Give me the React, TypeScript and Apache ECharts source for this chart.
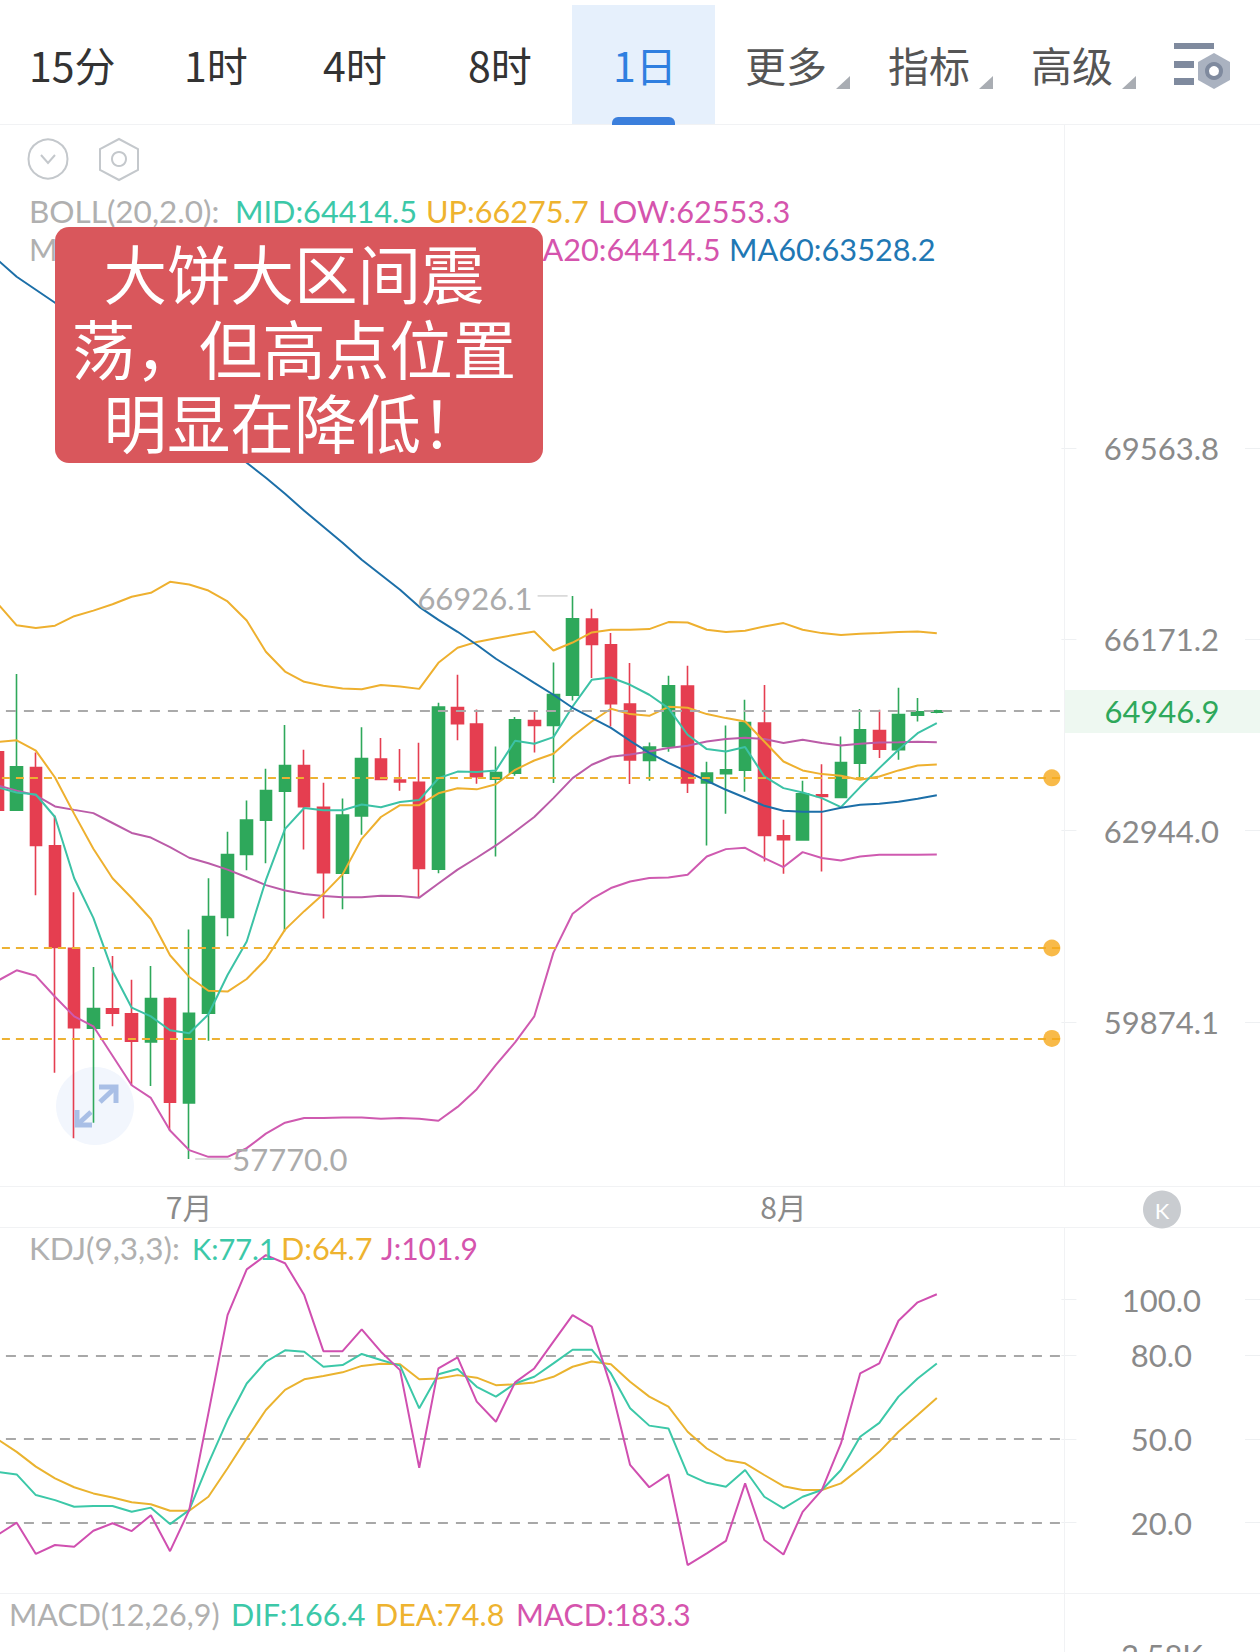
import React, { useEffect, useRef } from "react";
import * as echarts from "echarts";

const categories = [
  "6/21","6/22","6/23","6/24","6/25","6/26","6/27","6/28","6/29","6/30",
  "7/1","7/2","7/3","7/4","7/5","7/6","7/7","7/8","7/9","7/10",
  "7/11","7/12","7/13","7/14","7/15","7/16","7/17","7/18","7/19","7/20",
  "7/21","7/22","7/23","7/24","7/25","7/26","7/27","7/28","7/29","7/30",
  "7/31","8/1","8/2","8/3","8/4","8/5","8/6","8/7","8/8","8/9",
  "8/10","8/11","8/12","8/13","8/14","8/15",
];
const monthLabels: Record<string, string> = { "7/1": "7月", "8/1": "8月" };

// open, close, low, high
const kline = [
  [64255,63280,63180,64400],[63280,64003,63280,65576],[63990,62701,61891,64241],[62694,61053,59085,63200],
  [61040,59783,58081,61941],[59776,60085,58319,60739],[60080,60010,59807,60915],[60004,59575,58892,60538],
  [59562,60241,58880,60758],[60241,58632,58200,60260],[58620,60010,57770,61337],[60010,61546,59580,62166],
  [61533,62552,61229,62927],[62552,63117,62295,63444],[63117,63606,62410,63970],[63595,64024,61305,64708],
  [64024,63338,62636,64288],[63331,62255,61514,63739],[62248,63200,61666,63475],[63187,64142,62876,64668],
  [64135,63791,63791,64487],[63784,63751,63606,64302],[63744,62327,61858,64407],[62314,65010,62248,65083],
  [65003,64728,64448,65563],[64721,63838,63720,64969],[63798,63908,62521,64344],[63898,64794,63853,64840],
  [64782,64697,64243,64935],[64697,65225,63732,65772],[65214,66528,65122,66926.1],[66522,66082,65504,66702],
  [66078,65066,64681,66279],[65061,64120,63715,65762],[64109,64334,63770,64411],[64344,65372,64255,65544],
  [65367,63732,63565,65715],[63732,63898,62701,64087],[63887,63953,63223,64697],[63948,64748,63587,65134],
  [64738,62865,62439,65385],[62860,62794,62239,63123],[62790,63553,62790,63770],[63537,63509,62276,64048],
  [63492,64075,63492,64512],[64065,64625,63831,64976],[64613,64300,64149,64964],[64288,64884,64120,65338],
  [64874,64930,64765,65163],[64925,64946.9,64905,64965],
];

const bollUp = [
  66794,66414,66368,66408,66573,66670,66780,66911,66981,67174,67126,67021,66829,66498,65957,65617,65441,65372,65327,65313,
  65386,65359,65320,65767,66025,66127,66190,66250,66307,65979,66116,66290,66337,66337,66349,66470,66463,66337,66297,66319,
  66394,66453,66337,66279,66245,66267,66279,66297,66307,66275.7,
];
const bollLow = [
  60521,60689,60601,60271,59962,59807,59347,58892,58698,58200,57902,57801,57801,57932,58152,58319,58391,58391,58397,58397,
  58380,58391,58380,58349,58560,58831,59207,59556,59961,60969,61592,61830,62007,62114,62169,62179,62223,62521,62641,62663,
  62495,62348,62592,62495,62456,62521,62549,62550,62550,62553.3,
];
const ma5 = [
  63660,63575,63542,63169,62166,61526,60676,60098,59962,59745,59697,59992,60614,61147,62134,62973,63318,63280,63280,63377,
  63331,63417,63451,63811,63923,63915,63943,64440,64389,64502,65020,65475,65515,65390,65220,64993,64541,64300,64260,64334,
  63842,63648,63575,63482,63333,63665,63981,64288,64569,64738,
];
const ma10 = [
  64421,64448,64275,63825,63221,62648,62166,61846,61507,60928,60583,60365,60352,60551,60864,61337,61634,61909,62229,62810,
  63169,63365,63365,63562,63646,63627,63713,63953,64109,64221,64512,64765,64981,64891,64862,65015,64998,64891,64823,64765,
  64428,64092,63943,63881,63853,63787,63842,63943,64025,64041,
];
const ma20 = [
  63693,63606,63529,63344,63287,63233,63070,62907,62831,62674,62500,62410,62307,62183,62055,61967,61909,61878,61858,61858,
  61884,61878,61852,62081,62307,62500,62701,62930,63168,63482,63815,64037,64171,64209,64260,64317,64356,64428,64469,64491,
  64469,64401,64457,64401,64361,64389,64411,64416,64422,64414.5,
];
const ma60 = [
  73072,72748,72501,72256,71954,71654,71355,71057,70761,70465,70171,69878,69568,69296,69025,68737,68432,68146,67862,67561,
  67297,67034,66736,66510,66302,66077,65836,65630,65424,65220,64998,64828,64659,64440,64238,64070,63920,63770,63620,63487,
  63354,63271,63254,63254,63321,63371,63387,63420,63470,63528.2,
];
const kdjK = [
  38.2,37.3,29.9,28.1,25.7,26,26,23.9,25.4,19.5,24.5,41.3,56.8,69.9,77.7,81.8,81.3,75.9,76.5,80.5,
  78.3,76.3,61,73.2,75.1,68.7,65.2,69.9,72.3,77.1,82,82,73.5,61,54.8,53.8,37.4,34.3,32.9,38.9,
  29.3,25.1,29.3,31.7,38.9,50.8,55.8,65.2,71.7,77.1,
];
const kdjD = [
  49.9,45.4,40.1,35.9,32.7,30.5,29,27.3,26.6,24.3,24.3,29.3,39.5,50.2,60.4,67.6,71.4,72.6,73.9,76.2,
  77,76.8,71.4,71.7,72.9,72,69.3,69.6,70.3,72.3,75.9,77.8,76.8,70.5,65.2,61.6,52.6,46.6,42.5,41.3,
  37.1,33.1,31.7,31.7,34.1,39.5,45.4,52.6,58.6,64.7,
];
const kdjJ = [
  15.6,20,8.8,12,11.4,17.1,19.8,17,22.7,9.8,24.5,59.2,94.4,110.8,115.9,113,101.6,81.5,81.5,89.3,
  81.3,74.7,39.7,75.3,79.3,63.4,56.2,70.3,75.3,84.9,94.4,90.3,68.7,40.7,32.7,37.3,4.8,9,13.5,34.1,
  13.8,8.6,23.9,31.7,48.4,73.5,77.1,92.4,99,101.9,
];

const priceTicks = [59874.1, 62944.0, 66171.2, 69563.8];
const kdjTicks = [20, 50, 80, 100];
const kdjGuides = [20, 50, 80];
const lastPrice = 64946.9;
const levels = [63820, 61043, 59618];
const highMark = { index: 30, value: 66926.1 };
const lowMark = { index: 10, value: 57770.0 };

const tabs = [
  { text: "15分", x: 29, color: "#333" },
  { text: "1时", x: 184, color: "#333" },
  { text: "4时", x: 323, color: "#333" },
  { text: "8时", x: 468, color: "#333" },
  { text: "1日", x: 613, color: "#2f7fe0" },
  { text: "更多", x: 745, color: "#555" },
  { text: "指标", x: 888, color: "#555" },
  { text: "高级", x: 1031, color: "#555" },
];
const legendRows = [
  { y: 211, parts: [["BOLL(20,2.0):", 29, "#b0b0b0", 31.5], ["MID:64414.5", 235, "#3cc8a8", 30.7], ["UP:66275.7", 426, "#eeb32f", 30.7], ["LOW:62553.3", 598, "#d554ad", 30.7]] },
  { y: 249, parts: [["M", 29, "#b0b0b0", 30.7], ["MA20:64414.5", 514, "#d554ad", 30.7], ["MA60:63528.2", 729, "#1f78b4", 30.7]] },
  { y: 1248, parts: [["KDJ(9,3,3):", 29, "#b0b0b0", 31.5], ["K:77.1", 192, "#3cc8a8", 29], ["D:64.7", 281, "#eeb32f", 30.7], ["J:101.9", 381, "#d554ad", 30]] },
  { y: 1614, parts: [["MACD(12,26,9)", 9, "#b0b0b0", 30.5], ["DIF:166.4", 231, "#3cc8a8", 30.5], ["DEA:74.8", 375, "#eeb32f", 30.5], ["MACD:183.3", 516, "#d554ad", 30]] },
];
const calloutLines = ["大饼大区间震", "荡，但高点位置", "明显在降低！"];

const NUM = "Lato, 'Noto Sans CJK SC', sans-serif";
const CJK = "'Noto Sans CJK SC', sans-serif";
const GRID_LEFT = -12.08;
const GRID_WIDTH = 1073.5;
const GREEN = "#2ea85b";
const RED = "#e53e50";

function lineSeries(name: string, data: number[], color: string, width: number, xAxisIndex = 0, yAxisIndex = 0, z = 3) {
  return {
    name, type: "line", data, xAxisIndex, yAxisIndex, showSymbol: false, symbol: "none", z,
    lineStyle: { color, width }, itemStyle: { color }, silent: true,
  };
}

function txt(text: string, x: number, y: number, fill: string, size: number, family = NUM, align = "left", z = 20) {
  return { type: "text", x, y, z, silent: true, style: { text, fill, fontSize: size, fontFamily: family, align, verticalAlign: "middle" } };
}

function buildGraphics() {
  const g: any[] = [];
  const hair = "#f1f2f4";
  g.push({ type: "rect", z: 1, shape: { x: 572, y: 5, width: 143, height: 119 }, style: { fill: "#e6f0fc" } });
  g.push({ type: "rect", z: 2, shape: { x: 612, y: 117, width: 63, height: 8, r: [6, 6, 0, 0] }, style: { fill: "#3b7fdc" } });
  g.push({ type: "line", z: 1, shape: { x1: 0, y1: 124.5, x2: 1260, y2: 124.5 }, style: { stroke: hair, lineWidth: 1 } });
  g.push({ type: "line", z: 1, shape: { x1: 0, y1: 1186.5, x2: 1260, y2: 1186.5 }, style: { stroke: hair, lineWidth: 1 } });
  g.push({ type: "line", z: 1, shape: { x1: 0, y1: 1227.5, x2: 1260, y2: 1227.5 }, style: { stroke: hair, lineWidth: 1 } });
  g.push({ type: "line", z: 1, shape: { x1: 0, y1: 1593.5, x2: 1260, y2: 1593.5 }, style: { stroke: hair, lineWidth: 1 } });
  g.push({ type: "line", z: 1, shape: { x1: 1064.5, y1: 124, x2: 1064.5, y2: 1186 }, style: { stroke: hair, lineWidth: 1 } });
  g.push({ type: "line", z: 1, shape: { x1: 1064.5, y1: 1227, x2: 1064.5, y2: 1652 }, style: { stroke: hair, lineWidth: 1 } });

  tabs.forEach((t) => g.push(txt(t.text, t.x, 64, t.color, 41, CJK)));
  [836, 979, 1122].forEach((x) =>
    g.push({ type: "polygon", z: 5, shape: { points: [[x + 14, 76], [x + 14, 89], [x, 89]] }, style: { fill: "#a9adb3" } })
  );
  // settings icon in the toolbar
  g.push({ type: "rect", z: 5, shape: { x: 1174, y: 43, width: 40, height: 6 }, style: { fill: "#7f8a9e" } });
  g.push({ type: "rect", z: 5, shape: { x: 1174, y: 61, width: 20, height: 7 }, style: { fill: "#7f8a9e" } });
  g.push({ type: "rect", z: 5, shape: { x: 1174, y: 78, width: 20, height: 7 }, style: { fill: "#7f8a9e" } });
  g.push({ type: "polygon", z: 5, shape: { points: [[1214, 53], [1230, 62], [1230, 80], [1214, 89], [1198, 80], [1198, 62]] }, style: { fill: "#aab2c0" } });
  g.push({ type: "circle", z: 6, shape: { cx: 1214, cy: 71, r: 7 }, style: { fill: "#fff", stroke: "#7f8a9e", lineWidth: 4 } });

  // collapse + settings icons
  g.push({ type: "circle", z: 5, shape: { cx: 48, cy: 159, r: 19.5 }, style: { fill: "none", stroke: "#c4c8cc", lineWidth: 2 } });
  g.push({ type: "polyline", z: 5, shape: { points: [[41, 155], [48, 163], [55, 155]] }, style: { fill: "none", stroke: "#c4c8cc", lineWidth: 2 } });
  g.push({ type: "polygon", z: 5, shape: { points: [[119, 139], [138, 149], [138, 170], [119, 180], [100, 170], [100, 149]] }, style: { fill: "none", stroke: "#c4c8cc", lineWidth: 2 } });
  g.push({ type: "circle", z: 5, shape: { cx: 119, cy: 159, r: 7 }, style: { fill: "none", stroke: "#c4c8cc", lineWidth: 2 } });

  legendRows.forEach((row) => row.parts.forEach(([t, x, c, s]) => g.push(txt(t as string, x as number, row.y, c as string, s as number))));

  // callout
  g.push({ type: "rect", z: 30, shape: { x: 55, y: 227, width: 488, height: 236, r: 14 }, style: { fill: "#d9575c" } });
  g.push({
    type: "text", x: 294, y: 345.5, z: 31, silent: true,
    style: { text: calloutLines.join("\n"), fill: "#ffffff", fontSize: 63.5, lineHeight: 74.5, fontFamily: CJK, align: "center", verticalAlign: "middle" },
  });

  // last price tag
  g.push({ type: "rect", z: 1, shape: { x: 1065, y: 690, width: 195, height: 43 }, style: { fill: "#eef8f1" } });
  g.push(txt(lastPrice.toFixed(1), 1162, 711, GREEN, 31, NUM, "center"));

  // zoom button
  g.push({ type: "circle", z: 1, shape: { cx: 95, cy: 1106, r: 39 }, style: { fill: "#f2f6fd" } });
  const arrow = { fill: "none", stroke: "#a9bfe6", lineWidth: 5 };
  g.push({ type: "polyline", z: 7, shape: { points: [[99, 1087], [116, 1087], [116, 1103]] }, style: arrow });
  g.push({ type: "line", z: 7, shape: { x1: 116, y1: 1087, x2: 100, y2: 1102 }, style: arrow });
  g.push({ type: "polyline", z: 7, shape: { points: [[77, 1110], [77, 1125], [92, 1125]] }, style: arrow });
  g.push({ type: "line", z: 7, shape: { x1: 77, y1: 1125, x2: 91, y2: 1112 }, style: arrow });

  // jump-to-latest button
  g.push({ type: "circle", z: 6, shape: { cx: 1162, cy: 1209.5, r: 19 }, style: { fill: "#c9ccd0" } });
  g.push(txt("K", 1162, 1210, "#ffffff", 22, NUM, "center", 7));

  // clipped first tick of the MACD pane
  g.push(txt("2.58K", 1162, 1655, "#888888", 31, NUM, "center"));
  return g;
}

export default function App() {
  const ref = useRef<HTMLDivElement>(null);
  useEffect(() => {
    document.body.style.margin = "0";
    const chart = echarts.init(ref.current!, null, { renderer: "svg" });
    const tickStyle = { show: true, length: 15, lineStyle: { color: "#eef0f2" } };
    const hiddenRest = { axisLine: { show: false }, splitLine: { show: false }, axisLabel: { show: false } };
    const labelBase = {
      show: true, color: "#8a8a8a", fontSize: 31, fontFamily: NUM, margin: 100, align: "center", padding: [4, 0, 0, 0],
    };
    const option: any = {
      animation: false,
      backgroundColor: "#ffffff",
      grid: [
        { left: GRID_LEFT, width: GRID_WIDTH, top: 124, height: 1062, show: false, outerBoundsMode: "none", containLabel: false },
        { left: GRID_LEFT, width: GRID_WIDTH, top: 1227, height: 366, show: false, outerBoundsMode: "none", containLabel: false },
      ],
      xAxis: [
        {
          type: "category", gridIndex: 0, data: categories, boundaryGap: true,
          axisLine: { show: false }, axisTick: { show: false }, splitLine: { show: false },
          axisLabel: {
            show: true, color: "#8a8a8a", fontSize: 30, fontFamily: CJK, margin: 5, hideOverlap: false,
            interval: (_: number, v: string) => !!monthLabels[v],
            formatter: (v: string) => monthLabels[v] ?? "",
          },
        },
        {
          type: "category", gridIndex: 1, data: categories, boundaryGap: true,
          axisLine: { show: false }, axisTick: { show: false }, axisLabel: { show: false }, splitLine: { show: false },
        },
      ],
      yAxis: [
        {
          type: "log", logBase: 10, gridIndex: 0, position: "right", min: 57362, max: 75711,
          axisLine: { show: false }, splitLine: { show: false }, minorTick: { show: false }, minorSplitLine: { show: false },
          axisTick: { ...tickStyle, customValues: priceTicks },
          axisLabel: { ...labelBase, customValues: priceTicks, formatter: (v: number) => v.toFixed(1) },
        },
        {
          type: "value", gridIndex: 1, position: "right", min: -5.2, max: 126,
          axisLine: { show: false }, splitLine: { show: false },
          axisTick: { ...tickStyle, customValues: kdjTicks },
          axisLabel: { ...labelBase, customValues: kdjTicks, formatter: (v: number) => v.toFixed(1) },
        },
        {
          type: "log", logBase: 10, gridIndex: 0, position: "right", offset: 183.6, min: 57362, max: 75711,
          ...hiddenRest, axisTick: { ...tickStyle, customValues: priceTicks },
        },
        {
          type: "value", gridIndex: 1, position: "right", offset: 183.6, min: -5.2, max: 126,
          ...hiddenRest, axisTick: { ...tickStyle, customValues: kdjTicks },
        },
      ],
      series: [
        {
          name: "K", type: "candlestick", data: kline, xAxisIndex: 0, yAxisIndex: 0, barWidth: 12, z: 2,
          itemStyle: { color: GREEN, color0: RED, borderColor: GREEN, borderColor0: RED, borderWidth: 1.6 },
          markPoint: {
            animation: false, silent: true,
            data: [
              {
                coord: [categories[highMark.index], highMark.value], symbol: "rect", symbolSize: [30, 1], symbolOffset: [-20, 0],
                itemStyle: { color: "#bdbdbd" },
                label: { show: true, position: "left", distance: 5, offset: [0, 2], color: "#ababab", fontSize: 31, fontFamily: NUM, formatter: highMark.value.toFixed(1) },
              },
              {
                coord: [categories[lowMark.index], lowMark.value], symbol: "rect", symbolSize: [36, 1], symbolOffset: [24, 0],
                itemStyle: { color: "#bdbdbd" },
                label: { show: true, position: "right", distance: 1, color: "#ababab", fontSize: 31, fontFamily: NUM, formatter: lowMark.value.toFixed(1) },
              },
            ],
          },
        },
        lineSeries("UP", bollUp, "#eeb02f", 2),
        lineSeries("LOW", bollLow, "#cf5ab0", 2),
        lineSeries("MA20", ma20, "#bb5ca8", 2),
        lineSeries("MA10", ma10, "#eeb02f", 2),
        lineSeries("MA5", ma5, "#3cc2a6", 2),
        lineSeries("MA60", ma60, "#1c6fa8", 2),
        {
          name: "Levels", type: "scatter", xAxisIndex: 0, yAxisIndex: 0, z: 5, symbolSize: 17,
          data: levels.map((v) => [55, v]), itemStyle: { color: "#f6a91b" }, silent: true,
          markLine: {
            animation: false, silent: true, symbol: "none", label: { show: false },
            lineStyle: { color: "#edb233", width: 2, type: [8, 6] },
            data: levels.map((v) => ({ yAxis: v })),
          },
        },
        {
          name: "Last", type: "line", xAxisIndex: 0, yAxisIndex: 0, data: [], z: 4, silent: true,
          markLine: {
            animation: false, silent: true, symbol: "none", label: { show: false },
            lineStyle: { color: "#aaaaaa", width: 1.8, type: [10, 8] },
            data: [{ yAxis: lastPrice }],
          },
        },
        {
          ...lineSeries("D", kdjD, "#eab32f", 2, 1, 1, 3),
          markLine: {
            animation: false, silent: true, symbol: "none", label: { show: false }, z: 1,
            lineStyle: { color: "#a8a8a8", width: 1.8, type: [10, 8] },
            data: kdjGuides.map((v) => ({ yAxis: v })),
          },
        },
        lineSeries("K", kdjK, "#3cc8a8", 2, 1, 1, 4),
        lineSeries("J", kdjJ, "#d04fb0", 2, 1, 1, 5),
      ],
      graphic: { elements: buildGraphics() },
    };
    chart.setOption(option);
    return () => chart.dispose();
  }, []);
  return <div ref={ref} style={{ width: 1260, height: 1652, display: "block" }} />;
}
